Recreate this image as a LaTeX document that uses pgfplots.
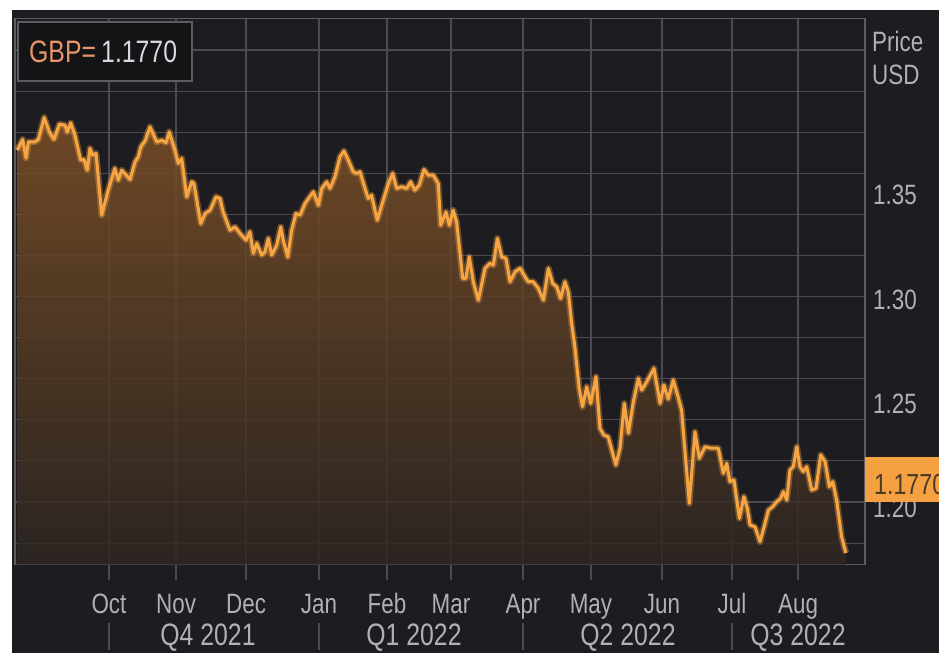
\documentclass[border=0pt]{standalone}
\usepackage{pgfplots}
\pgfplotsset{compat=1.18}
\usepackage{pgfplotstable}
\usepackage{fontspec}
\setmainfont{Liberation Sans}[FakeStretch=0.8]
\definecolor{bgc}{RGB}{29,29,33}
\definecolor{gridc}{RGB}{74,74,80}
\definecolor{framec}{RGB}{92,92,98}
\definecolor{labelc}{RGB}{176,176,182}
\definecolor{linec}{RGB}{247,165,66}
\definecolor{filltop}{RGB}{125,80,38}
\definecolor{fillbot}{RGB}{45,38,34}
\definecolor{gbpc}{RGB}{232,150,105}
\definecolor{valc}{RGB}{215,215,220}
\definecolor{boxc}{RGB}{245,161,66}
\definecolor{boxtext}{RGB}{75,58,40}

\pgfplotstableread{
d p
-40.5 1.3716
-38.1 1.3767
-36.6 1.3677
-35.6 1.3755
-32.7 1.3755
-31.2 1.3767
-28.6 1.3872
-26.3 1.3803
-24.3 1.3767
-21.9 1.3840
-19.4 1.3835
-18.4 1.3803
-16.9 1.3846
-15.0 1.3787
-12.5 1.3668
-11.0 1.3671
-9.6 1.3620
-8.4 1.3724
-7.2 1.3692
-5.7 1.3700
-3.2 1.3404
-0.3 1.3527
2.6 1.3628
4.1 1.3572
5.6 1.3620
9.3 1.3575
11.5 1.3660
12.9 1.3683
14.0 1.3731
15.9 1.3760
18.1 1.3827
21.1 1.3755
23.3 1.3763
25.2 1.3751
26.6 1.3803
29.1 1.3716
30.6 1.3652
32.1 1.3676
34.3 1.3492
36.5 1.3564
37.5 1.3556
40.5 1.3364
42.4 1.3412
44.6 1.3428
47.2 1.3492
49.0 1.3484
50.4 1.3419
53.4 1.3332
55.6 1.3348
57.8 1.3317
60.5 1.3284
62.2 1.3324
63.7 1.3221
65.2 1.3269
67.4 1.3213
68.8 1.3228
70.3 1.3293
71.8 1.3213
74.0 1.3260
75.8 1.3348
76.9 1.3284
78.9 1.3204
80.6 1.3332
82.5 1.3412
84.3 1.3404
86.5 1.3460
88.0 1.3484
90.2 1.3516
92.4 1.3452
93.9 1.3532
96.1 1.3564
97.5 1.3532
99.7 1.3588
101.9 1.3683
103.7 1.3712
105.6 1.3668
107.8 1.3612
109.3 1.3604
110.8 1.3612
113.0 1.3532
114.4 1.3484
115.9 1.3500
118.4 1.3380
121.0 1.3476
123.3 1.3556
125.2 1.3604
127.0 1.3532
129.2 1.3540
131.4 1.3532
133.1 1.3564
135.0 1.3524
136.9 1.3548
139.0 1.3623
140.9 1.3596
143.1 1.3596
145.3 1.3556
146.4 1.3356
148.7 1.3420
150.2 1.3356
151.9 1.3428
153.4 1.3372
156.1 1.3101
157.5 1.3101
159.0 1.3204
160.8 1.3085
163.0 1.2997
165.9 1.3149
168.1 1.3173
169.6 1.3165
171.4 1.3293
173.3 1.3204
175.2 1.3197
177.0 1.3085
179.2 1.3133
181.4 1.3149
183.6 1.3109
185.0 1.3085
187.2 1.3085
189.5 1.3053
191.7 1.2997
193.9 1.3149
195.8 1.3077
197.6 1.3061
199.3 1.3005
201.2 1.3085
202.7 1.3037
204.2 1.2885
205.6 1.2773
207.5 1.2574
209.0 1.2486
210.8 1.2582
212.6 1.2502
214.9 1.2630
216.7 1.2382
218.4 1.2350
220.3 1.2342
223.7 1.2207
225.5 1.2287
227.4 1.2502
229.2 1.2359
231.4 1.2510
233.6 1.2622
235.1 1.2566
237.3 1.2606
240.5 1.2670
243.2 1.2502
244.9 1.2590
246.8 1.2523
249.0 1.2614
251.2 1.2532
252.7 1.2470
256.1 1.2023
258.6 1.2366
260.5 1.2239
263.0 1.2294
266.0 1.2287
268.9 1.2287
271.1 1.2167
272.6 1.2215
274.0 1.2127
275.8 1.2135
278.2 1.1951
280.2 1.2055
281.7 1.1999
282.9 1.1919
285.1 1.1911
287.3 1.1839
289.1 1.1911
291.0 1.1991
292.9 1.2007
294.7 1.2031
296.4 1.2047
297.6 1.2079
299.1 1.2039
300.5 1.2183
302.0 1.2199
303.5 1.2294
304.9 1.2199
306.4 1.2175
307.9 1.2199
310.1 1.2087
312.0 1.2095
314.1 1.2255
316.0 1.2223
317.9 1.2103
319.4 1.2127
321.1 1.2039
323.3 1.1863
325.2 1.1785
}\gbp

\begin{document}
\begin{tikzpicture}[x=1pt,y=1pt]
\path[use as bounding box] (0,0) rectangle (939,653);
\fill[white] (0,0) rectangle (939,653);
\fill[bgc] (12,0) rectangle (939,643);
\begin{axis}[
  at={(15pt,88.5pt)}, anchor=south west,
  width=850pt, height=546pt, scale only axis,
  xmin=-41.48, xmax=333.63, ymin=1.1730, ymax=1.4346,
  axis line style={draw=framec, line width=1.3pt},
  xtick={0,29.6,60.5,92.7,122.7,150.9,182.7,212.7,244.0,274.9,304.1},
  xticklabels={Oct,Nov,Dec,Jan,Feb,Mar,Apr,May,Jun,Jul,Aug},
  xtick pos=bottom, tick align=outside,
  major tick length=15pt,
  xtick style={draw=gridc, line width=1.2pt},
  xmajorgrids,
  major grid style={draw=gridc, line width=1.2pt},
  ytick={1.20,1.25,1.30,1.35},
  yticklabels={1.20,1.25,1.30,1.35},
  yticklabel pos=right, ytick style={draw=none},
  ymajorgrids=false,
  minor ytick={1.18325,1.20295,1.22264,1.24233,1.26203,1.28167,1.30137,1.32106,1.34075,1.36045,1.38009,1.39978,1.41948},
  yminorgrids,
  minor grid style={draw=gridc, line width=1.2pt},
  minor tick length=0pt,
  tick label style={font=\fontsize{28}{30}\selectfont, text=labelc},
  xticklabel style={anchor=base, yshift=-34pt},
  yticklabel style={anchor=west, inner sep=0pt, xshift=-7pt},
]
\addplot[draw=none, top color=filltop, bottom color=fillbot, fill opacity=0.85] table[x=d,y=p]{\gbp} \closedcycle;
\addplot[linec, opacity=0.35, line width=6.5pt, line join=round] table[x=d,y=p]{\gbp};
\addplot[linec, line width=3pt, line join=round] table[x=d,y=p]{\gbp};
\end{axis}
% price label box
\fill[bgc!70!black] (18,572) rectangle (192,631);
\draw[framec, line width=1.2pt] (18,572) rectangle (192,631);
\node[anchor=base west, inner sep=0pt, font=\fontsize{31}{33}\selectfont] at (29,590) {\textcolor{gbpc}{GBP=}\,\textcolor{valc}{1.1770}};
% current value box
\fill[boxc] (865,151) rectangle (945,196);
\node[anchor=base west, inner sep=0pt, font=\fontsize{29}{31}\selectfont, text=boxtext] at (874,158) {1.1770};
% axis title
\node[anchor=base west, inner sep=0pt, font=\fontsize{28}{30}\selectfont, text=labelc] at (872,601) {Price};
\node[anchor=base west, inner sep=0pt, font=\fontsize{28}{30}\selectfont, text=labelc] at (872,568) {USD};
% quarter labels
\foreach \xx/\qq in {208/{Q4 2021}, 414/{Q1 2022}, 628/{Q2 2022}, 798/{Q3 2022}}
  \node[anchor=base, inner sep=0pt, font=\fontsize{31}{33}\selectfont, text=labelc] at (\xx,8) {\qq};
\foreach \xx in {109,319,523,732}
  \draw[gridc, line width=1.2pt] (\xx,3) -- (\xx,30);
\end{tikzpicture}
\end{document}
